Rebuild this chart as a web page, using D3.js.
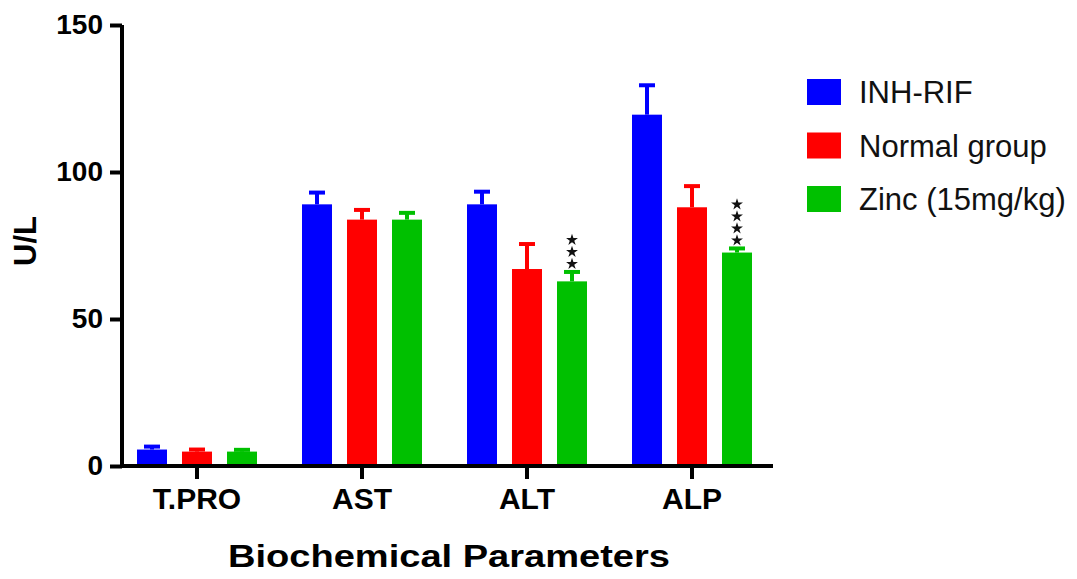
<!DOCTYPE html>
<html>
<head>
<meta charset="utf-8">
<script src="https://cdn.jsdelivr.net/npm/d3@7"></script>
<style>
  body { margin: 0; background: #fff; }
  text { font-family: "Liberation Sans", Arial, sans-serif; }
</style>
</head>
<body>
<div id="chart"></div>
<script>
// data
var categories = ["T.PRO", "AST", "ALT", "ALP"];
var seriesNames = ["INH-RIF", "Normal group", "Zinc (15mg/kg)"];
var inhRif    = [5.6, 89, 89, 119.5];
var inhRifErr = [1.0, 4, 4.3, 10];
var normal    = [4.9, 83.8, 67, 88];
var normalErr = [0.7, 3.3, 8.5, 7.2];
var zinc      = [4.9, 83.8, 62.8, 72.6];
var zincErr   = [0.6, 2.3, 3.2, 1.4];
var zincStars = [0, 0, 3, 4];
var yTicks = [0, 50, 100, 150];
var colors = ["#0000ff", "#ff0000", "#00c000"];

var w = 1077, h = 579;

var svg = d3.select("#chart")
            .append("svg")
            .attr("width", w)
            .attr("height", h);

var x0 = d3.scaleBand()
           .domain(categories)
           .range([114.5, 774.5]);

var x1 = d3.scaleBand()
           .domain(seriesNames)
           .range([0, 120])
           .paddingInner(1 / 3);

var y = d3.scaleLinear()
          .domain([0, 150])
          .range([466, 25]);

var values = [inhRif, normal, zinc];
var errs = [inhRifErr, normalErr, zincErr];

var bars = [];
categories.forEach(function(c, i) {
	seriesNames.forEach(function(s, j) {
		bars.push({cat: c, ser: s, j: j, v: values[j][i], e: errs[j][i]});
	});
});

function barX(d) {
	return x0(d.cat) + x0.bandwidth() / 2 - 60 + x1(d.ser);
}

//bars
svg.selectAll("rect.bar")
   .data(bars)
   .enter()
   .append("rect")
   .attr("class", "bar")
   .attr("x", barX)
   .attr("y", function(d) { return y(d.v); })
   .attr("width", x1.bandwidth())
   .attr("height", function(d) { return y(0) - y(d.v); })
   .attr("fill", function(d) { return colors[d.j]; });

//error bars (upper only)
var eb = svg.selectAll("g.err")
            .data(bars)
            .enter()
            .append("g")
            .attr("class", "err")
            .attr("stroke", function(d) { return colors[d.j]; })
            .attr("stroke-width", 4);

eb.append("line")
  .attr("x1", function(d) { return barX(d) + x1.bandwidth() / 2; })
  .attr("x2", function(d) { return barX(d) + x1.bandwidth() / 2; })
  .attr("y1", function(d) { return y(d.v); })
  .attr("y2", function(d) { return y(d.v + d.e); });

eb.append("line")
  .attr("x1", function(d) { return barX(d) + x1.bandwidth() / 2 - 8; })
  .attr("x2", function(d) { return barX(d) + x1.bandwidth() / 2 + 8; })
  .attr("y1", function(d) { return y(d.v + d.e); })
  .attr("y2", function(d) { return y(d.v + d.e); });

//significance stars above the zinc bars
var stars = [];
categories.forEach(function(c, i) {
	for (var k = 0; k < zincStars[i]; k++) {
		stars.push({cat: c, k: k, top: zinc[i] + zincErr[i]});
	}
});

svg.selectAll("path.star")
   .data(stars)
   .enter()
   .append("path")
   .attr("class", "star")
   .attr("d", d3.symbol().type(d3.symbolStar).size(44))
   .attr("fill", "#111")
   .attr("transform", function(d) {
   		var cx = x0(d.cat) + x0.bandwidth() / 2 - 60 + x1(seriesNames[2]) + x1.bandwidth() / 2;
   		var cy = y(d.top) - 8 - d.k * 12;
   		return "translate(" + cx + "," + cy + ")";
   });

//axes
var yAxis = svg.append("g")
               .attr("transform", "translate(122,0)")
               .call(d3.axisLeft(y).tickValues(yTicks).tickSize(12).tickSizeOuter(0).tickPadding(7));

var xAxis = svg.append("g")
               .attr("transform", "translate(0,466)")
               .call(d3.axisBottom(x0).tickSize(13).tickSizeOuter(0).tickPadding(9));

xAxis.select(".domain").attr("d", "M120,0H773");
yAxis.select(".domain").attr("d", "M0,25V468");

[xAxis, yAxis].forEach(function(a) {
	a.selectAll("path, line")
	 .attr("stroke", "#000")
	 .attr("stroke-width", 4);
	a.selectAll("text")
	 .attr("fill", "#000")
	 .attr("font-family", "'Liberation Sans', Arial, sans-serif")
	 .attr("font-weight", "bold");
});
yAxis.selectAll("text").attr("font-size", "28px");
xAxis.selectAll("text").attr("font-size", "30px");

//axis titles
svg.append("text")
   .text("U/L")
   .attr("transform", "translate(36,241) rotate(-90)")
   .attr("text-anchor", "middle")
   .attr("font-size", "31px")
   .attr("font-weight", "bold");

svg.append("text")
   .text("Biochemical Parameters")
   .attr("x", 228)
   .attr("y", 567)
   .attr("font-size", "32px")
   .attr("font-weight", "bold")
   .attr("textLength", 442)
   .attr("lengthAdjust", "spacingAndGlyphs");

//legend
var legend = svg.selectAll("g.legend")
                .data(seriesNames)
                .enter()
                .append("g")
                .attr("class", "legend")
                .attr("transform", function(d, i) {
                	return "translate(807," + (79 + i * 53.5) + ")";
                });

legend.append("rect")
      .attr("width", 34)
      .attr("height", 26)
      .attr("fill", function(d, i) { return colors[i]; });

legend.append("text")
      .text(function(d) { return d; })
      .attr("x", 52)
      .attr("y", 24)
      .attr("font-size", "31px")
      .attr("fill", "#111");
</script>
</body>
</html>
